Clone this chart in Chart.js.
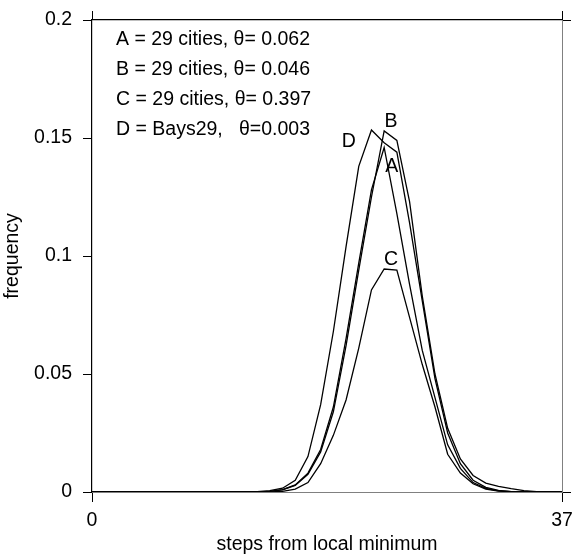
<!DOCTYPE html>
<html>
<head>
<meta charset="utf-8">
<script src="https://cdn.jsdelivr.net/npm/chart.js@4.4.1/dist/chart.umd.min.js"></script>
<style>
  body { margin: 0; background: #fff; }
  #wrap { width: 573px; height: 556px; }
</style>
</head>
<body>
<div id="wrap"><canvas id="myChart" width="573" height="556"></canvas></div>
<script>
// data
const steps = [0,1,2,3,4,5,6,7,8,9,10,11,12,13,14,15,16,17,18,19,20,21,22,23,24,25,26,27,28,29,30,31,32,33,34,35,36,37];

const seriesA = [0,0,0,0,0,0,0,0,0,0,0,0,0,0.0001,0.0003,0.001,0.003,0.008,0.018,0.036,0.065,0.097,0.128,0.146,0.118,0.088,0.06,0.04,0.02,0.01,0.004,0.0015,0.0005,0.0002,0,0,0,0];
const seriesB = [0,0,0,0,0,0,0,0,0,0,0,0,0,0.0001,0.0003,0.0009,0.0028,0.0075,0.017,0.034,0.062,0.094,0.125,0.153,0.149,0.123,0.083,0.05,0.027,0.014,0.007,0.0038,0.0024,0.0014,0.0006,0.0002,0.0001,0];
const seriesC = [0,0,0,0,0,0,0,0,0,0,0,0,0,0,0,0.0003,0.0012,0.004,0.012,0.024,0.039,0.061,0.0856,0.0945,0.094,0.074,0.054,0.036,0.016,0.008,0.0035,0.0012,0.0004,0.0001,0,0,0,0];
const seriesD = [0,0,0,0,0,0,0,0,0,0,0,0,0.0001,0.0002,0.0006,0.0016,0.005,0.015,0.037,0.068,0.104,0.138,0.1534,0.148,0.144,0.114,0.081,0.048,0.025,0.012,0.005,0.002,0.0007,0.0002,0,0,0,0];

const seriesNames = ["A", "B", "C", "D"];
const legendLines = [
  "A = 29 cities, \u03b8= 0.062",
  "B = 29 cities, \u03b8= 0.046",
  "C = 29 cities, \u03b8= 0.397",
  "D = Bays29,   \u03b8=0.003"
];

const xTicks = [0, 37];
const yTicks = [0, 0.05, 0.1, 0.15, 0.2];
const yEdgeTicks = [0, 0.2];

const FONT = '"Liberation Sans", Arial, sans-serif';
const SIZE = 19.5;
const gray = '#808080';

function pts(values) {
  return steps.map((s, i) => ({ x: s, y: values[i] }));
}

function setTicks(list) {
  return function (scale) {
    scale.ticks = list.map(v => ({ value: v }));
  };
}

// fixed box sizes so the plot area sits where the reference has it
function fixSize(w, h) {
  return function (s) {
    if (w !== null) s.width = w;
    if (h !== null) s.height = h;
    s.paddingLeft = 0; s.paddingRight = 0;
    s.paddingTop = 0; s.paddingBottom = 0;
  };
}

// text over the plot: legend lines and curve letters
const textPlugin = {
  id: 'plotText',
  afterDraw(chart) {
    const ctx = chart.ctx;
    const area = chart.chartArea;
    const xs = chart.scales.x, ys = chart.scales.y;
    ctx.save();
    ctx.fillStyle = '#000';
    ctx.font = SIZE + 'px ' + FONT;
    ctx.textBaseline = 'alphabetic';
    ctx.textAlign = 'left';
    legendLines.forEach((t, i) => {
      ctx.fillText(t, area.left + 24, area.top + 25 + i * 30);
    });
    // letter spots in data units
    const spots = [[23.59, 0.1357], [23.54, 0.1548], [23.54, 0.0962], [20.21, 0.1463]];
    ctx.textAlign = 'center';
    seriesNames.forEach((n, i) => {
      ctx.fillText(n, xs.getPixelForValue(spots[i][0]), ys.getPixelForValue(spots[i][1]));
    });
    ctx.restore();
  }
};

const line = (values, name) => ({
  label: name,
  data: pts(values),
  borderColor: '#000',
  borderWidth: 1.3,
  pointRadius: 0,
  tension: 0,
  fill: false
});

new Chart("myChart", {
  type: "line",
  data: {
    datasets: [
      line(seriesA, "A"),
      line(seriesB, "B"),
      line(seriesC, "C"),
      line(seriesD, "D")
    ]
  },
  options: {
    responsive: false,
    animation: false,
    devicePixelRatio: 1,
    layout: { padding: 0 },
    plugins: {
      legend: { display: false },
      tooltip: { enabled: false }
    },
    scales: {
      x: {
        type: 'linear',
        position: 'bottom',
        min: 0, max: 37,
        afterBuildTicks: setTicks(xTicks),
        afterFit: fixSize(null, 64),
        ticks: { color: '#000', font: { family: FONT, size: SIZE }, padding: 7, maxRotation: 0, autoSkip: false },
        grid: { drawOnChartArea: false, tickLength: 10, color: '#000', lineWidth: 1 },
        border: { color: gray, width: 1 },
        title: { display: true, text: 'steps from local minimum', color: '#000', font: { family: FONT, size: SIZE }, padding: { top: 0, bottom: 0 } }
      },
      x2: {
        type: 'linear',
        position: 'top',
        min: 0, max: 37,
        afterBuildTicks: setTicks(xTicks),
        afterFit: fixSize(null, 20),
        ticks: { display: false },
        grid: { drawOnChartArea: false, tickLength: 9, color: '#000', lineWidth: 1 },
        border: { color: '#000', width: 1.2 }
      },
      y: {
        type: 'linear',
        position: 'left',
        min: 0, max: 0.2,
        afterBuildTicks: setTicks(yTicks),
        afterFit: fixSize(92, null),
        ticks: { color: '#000', font: { family: FONT, size: SIZE }, padding: 11, callback: v => String(v) },
        grid: { drawOnChartArea: false, tickLength: 9, color: '#000', lineWidth: 1 },
        border: { color: '#000', width: 1.2 },
        title: { display: true, text: 'frequency', color: '#000', font: { family: FONT, size: SIZE }, padding: { top: 1, bottom: 0 } }
      },
      y2: {
        type: 'linear',
        position: 'right',
        min: 0, max: 0.2,
        afterBuildTicks: setTicks(yEdgeTicks),
        afterFit: fixSize(11, null),
        ticks: { display: false },
        grid: { drawOnChartArea: false, tickLength: 9, color: '#000', lineWidth: 1 },
        border: { color: gray, width: 1 }
      }
    }
  },
  plugins: [textPlugin]
});
</script>
</body>
</html>
